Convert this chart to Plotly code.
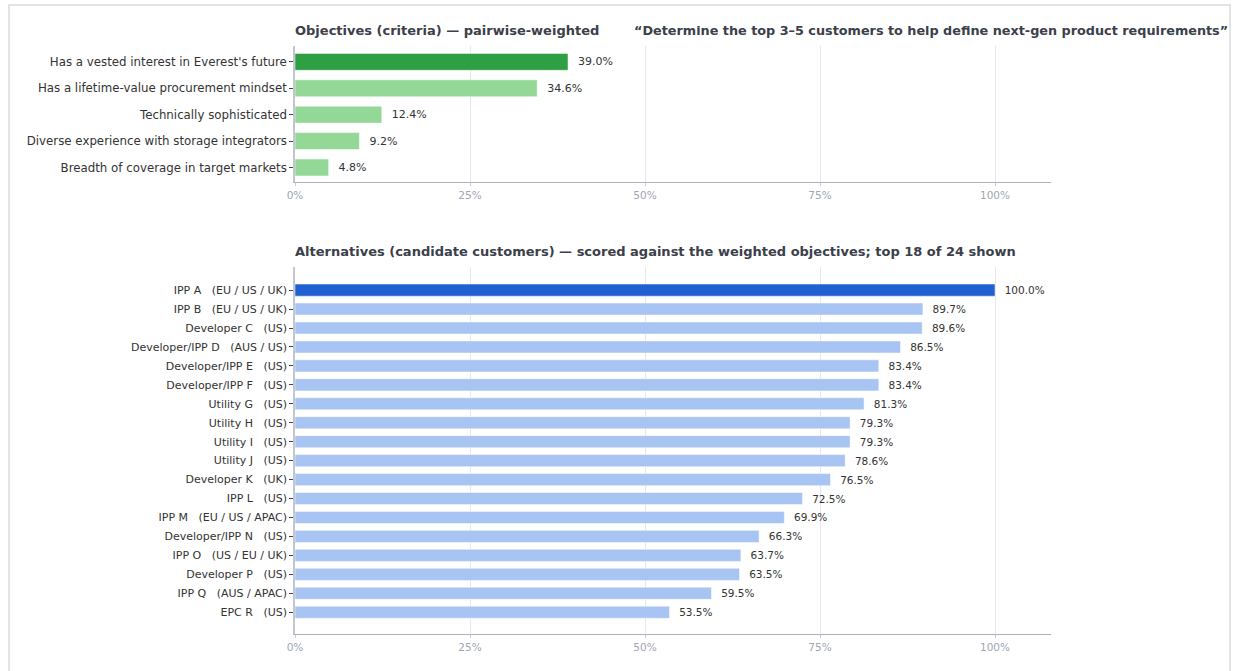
import plotly.graph_objects as go

W, H = 1233, 671

objectives = [
    "Has a vested interest in Everest's future",
    "Has a lifetime-value procurement mindset",
    "Technically sophisticated",
    "Diverse experience with storage integrators",
    "Breadth of coverage in target markets",
]
objective_weights = [39.0, 34.6, 12.4, 9.2, 4.8]

alt_names = ["IPP A", "IPP B", "Developer C", "Developer/IPP D", "Developer/IPP E",
             "Developer/IPP F", "Utility G", "Utility H", "Utility I", "Utility J",
             "Developer K", "IPP L", "IPP M", "Developer/IPP N", "IPP O",
             "Developer P", "IPP Q", "EPC R"]
alt_regions = ["EU / US / UK", "EU / US / UK", "US", "AUS / US", "US",
               "US", "US", "US", "US", "US",
               "UK", "US", "EU / US / APAC", "US", "US / EU / UK",
               "US", "AUS / APAC", "US"]
alt_scores = [100.0, 89.7, 89.6, 86.5, 83.4, 83.4, 81.3, 79.3, 79.3, 78.6,
              76.5, 72.5, 69.9, 66.3, 63.7, 63.5, 59.5, 53.5]

tick_vals = [0, 25, 50, 75, 100]
tick_text = ["0%", "25%", "50%", "75%", "100%"]

NB = "\u00a0"
alt_labels = [f"{n}{NB*3}({r})" for n, r in zip(alt_names, alt_regions)]

GREEN_HI, GREEN_LO = "#2f9f44", "#93d896"
BLUE_HI, BLUE_LO = "#2060d0", "#a8c4f2"
FONT = "DejaVu Sans"

def px_x(p):
    return p / W

def px_y(p):
    return 1 - p / H

fig = go.Figure()

fig.add_trace(go.Bar(
    x=objective_weights, y=list(range(len(objectives))), orientation="h",
    marker=dict(color=[GREEN_HI] + [GREEN_LO] * (len(objectives) - 1),
                line=dict(color="white", width=0.5)),
    text=[f"{NB*2}{v:.1f}%" for v in objective_weights], textposition="outside",
    textfont=dict(size=11, color="#333333", family=FONT), cliponaxis=False,
    width=0.64, xaxis="x", yaxis="y", showlegend=False, hoverinfo="skip",
))

fig.add_trace(go.Bar(
    x=alt_scores, y=list(range(len(alt_labels))), orientation="h",
    marker=dict(color=[BLUE_HI] + [BLUE_LO] * (len(alt_labels) - 1),
                line=dict(color="white", width=0.5)),
    text=[f"{NB*2}{v:.1f}%" for v in alt_scores], textposition="outside",
    textfont=dict(size=10.5, color="#333333", family=FONT), cliponaxis=False,
    width=0.64, xaxis="x2", yaxis="y2", showlegend=False, hoverinfo="skip",
))

xcommon = dict(
    range=[0, 108], tickvals=tick_vals, ticktext=tick_text,
    showgrid=True, gridcolor="#e6e7ec", gridwidth=1,
    showline=True, linecolor="#aeb2bd", linewidth=1.2,
    ticks="outside", ticklen=3, tickcolor="#c8cbd3",
    tickfont=dict(size=10.5, color="#a0a5b3", family=FONT),
    zeroline=False, automargin=False, fixedrange=True,
)
ycommon = dict(
    showgrid=False, showline=True, linecolor="#c3c6ce", linewidth=1.5,
    ticks="outside", ticklen=4, tickcolor="#444444",
    zeroline=False, automargin=False, fixedrange=True,
)

fig.update_layout(
    width=W, height=H,
    margin=dict(l=0, r=0, t=0, b=0),
    paper_bgcolor="white", plot_bgcolor="white",
    font=dict(family=FONT, color="#333333"),
    bargap=0.36,
    xaxis=dict(domain=[px_x(295), px_x(1051)], anchor="y", **xcommon),
    yaxis=dict(domain=[px_y(182), px_y(46)], anchor="x",
               range=[len(objectives) - 0.45, -0.6],
               tickvals=list(range(len(objectives))), ticktext=objectives,
               tickfont=dict(size=11.8, color="#333333", family=FONT), **ycommon),
    xaxis2=dict(domain=[px_x(295), px_x(1051)], anchor="y2", **xcommon),
    yaxis2=dict(domain=[px_y(634), px_y(267)], anchor="x2",
                range=[len(alt_labels) + 0.15, -1.22],
                tickvals=list(range(len(alt_labels))), ticktext=alt_labels,
                tickfont=dict(size=11, color="#333333", family=FONT), **ycommon),
    shapes=[dict(type="rect", xref="paper", yref="paper",
                 x0=px_x(9), x1=px_x(1230), y0=px_y(700), y1=px_y(5),
                 line=dict(color="#e4e4e6", width=2), fillcolor="rgba(0,0,0,0)",
                 layer="below")],
    annotations=[
        dict(text="<b>Objectives (criteria) — pairwise-weighted</b>", xref="paper", yref="paper",
             x=px_x(295), y=px_y(30), xanchor="left", yanchor="middle", showarrow=False,
             xshift=-2, font=dict(size=13, color="#3b404a", family=FONT)),
        dict(text="<b>“Determine the top 3–5 customers to help define next-gen product requirements”</b>",
             xref="paper", yref="paper",
             x=px_x(634), y=px_y(30), xanchor="left", yanchor="middle", showarrow=False,
             xshift=-2, font=dict(size=12.8, color="#3b404a", family=FONT)),
        dict(text="<b>Alternatives (candidate customers) — scored against the weighted objectives; top 18 of 24 shown</b>",
             xref="paper", yref="paper",
             x=px_x(295), y=px_y(251), xanchor="left", yanchor="middle", showarrow=False,
             xshift=-2, font=dict(size=13, color="#3b404a", family=FONT)),
    ],
)

fig.write_html("out.html")
